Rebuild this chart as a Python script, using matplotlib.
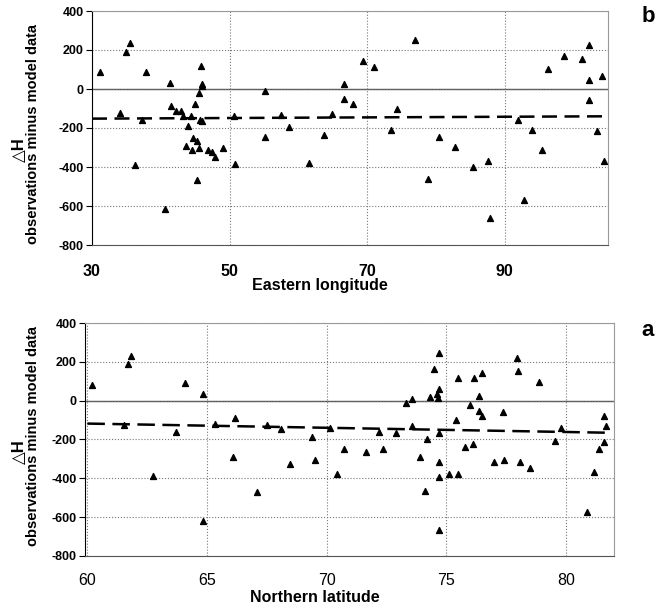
import matplotlib
matplotlib.use('Agg')
import matplotlib.pyplot as plt

# Panel b: eastern longitude vs dH
lon_b = [31.2, 34.1, 34.9, 35.5, 36.3, 37.3, 37.8, 40.65, 41.4, 41.5, 42.2, 42.9,
         43.25, 43.7, 43.9, 44.45, 44.6, 44.75, 45.0, 45.3, 45.3, 45.5, 45.6, 45.7,
         45.9, 46.05, 46.05, 46.05, 46.9, 47.5, 47.9, 49.0, 50.7, 50.8, 55.2, 55.1,
         57.5, 58.7, 61.5, 63.7, 64.9, 66.6, 66.6, 67.9, 69.4, 71.0, 74.3, 73.4,
         76.9, 78.9, 80.5, 82.7, 85.4, 87.5, 87.8, 91.9, 92.8, 94.0, 95.4, 96.3,
         98.6, 101.2, 102.3, 102.2, 102.25, 104.1, 103.4, 104.4]
dh_b = [87, -123, 188, 235, -389, -160, 89, -617, 32, -89, -111, -111,
        -140, -290, -188, -140, -315, -252, -77, -266, -465, -303, -20, -157,
        116, -164, 27, 14, -315, -324, -348, -303, -140, -384, -9, -246,
        -131, -193, -379, -235, -130, 28, -50, -77, 144, 114, -102, -212,
        249, -461, -247, -297, -398, -368, -661, -161, -571, -210, -315, 102,
        171, 156, 224, 44, -54, 68, -217, -371]
trend_lon_b = [30, 104.5]
trend_dh_b = [-152, -140]

# Panel a: northern latitude vs dH
lat_a = [60.18, 61.52, 61.69, 61.82, 62.75, 63.72, 64.06, 64.82, 64.83, 65.34,
         66.07, 66.15, 67.07, 67.5, 68.1, 68.48, 69.39, 69.52, 70.15, 70.42,
         70.72, 71.63, 72.2, 72.34, 72.9, 73.3, 73.57, 73.58, 73.9, 74.1,
         74.19, 74.3, 74.46, 74.61, 74.66, 74.67, 74.68, 74.68, 74.68, 74.68,
         74.68, 75.11, 75.41, 75.48, 75.5, 75.79, 75.99, 76.09, 76.16, 76.36,
         76.36, 76.49, 76.5, 76.97, 77.38, 77.4, 77.96, 77.97, 78.07, 78.5,
         78.87, 79.55, 79.77, 80.88, 81.17, 81.39, 81.58, 81.6, 81.68]
dh_a = [83, -125, 190, 232, -388, -159, 92, 33, -618, -118,
        -289, -90, -468, -125, -144, -327, -189, -305, -142, -379,
        -251, -266, -162, -248, -165, -14, 9, -133, -289, -463,
        -196, 20, 162, 34, 12, 60, 243, -165, -318, -395,
        -664, -380, -102, 116, -376, -238, -22, -223, 116, 26,
        -54, 140, -80, -317, -58, -305, 220, 153, -315, -346,
        97, -209, -143, -575, -368, -247, -77, -211, -131]
trend_lat_a = [60, 81.7]
trend_dh_a = [-118, -165]

yticks = [400, 200, 0, -200, -400, -600, -800]
fam = ['Liberation Sans', 'DejaVu Sans']

fig = plt.figure(figsize=(6.64, 6.06), dpi=100)
ax_b = fig.add_axes([92 / 664, 1 - 245 / 606, 516 / 664, 234 / 606])
ax_a = fig.add_axes([85 / 664, 1 - 556 / 606, 529 / 664, 233 / 606])


def style(ax, bold_x, xpad):
    ax.set_ylim(-800, 400)
    ax.set_yticks(yticks)
    ax.set_yticklabels([str(v) for v in yticks], family=fam, fontweight='bold', fontsize=9)
    ax.grid(True, linestyle=':', color='#777777', linewidth=0.8)
    ax.axhline(0, color='#555555', linewidth=1.0, zorder=1)
    for s in ['top', 'right']:
        ax.spines[s].set_color('#999999')
        ax.spines[s].set_linewidth(0.8)
    ax.spines['left'].set_color('black')
    ax.spines['bottom'].set_color('#555555')
    ax.tick_params(axis='y', direction='out', length=4, width=0.8, pad=2)
    ax.tick_params(axis='x', length=0, pad=xpad)
    for lbl in ax.get_xticklabels():
        lbl.set_family(fam)
        lbl.set_fontsize(11.5)
        if bold_x:
            lbl.set_fontweight('bold')


# top panel
ax_b.scatter(lon_b, dh_b, marker='^', s=18, color='black', zorder=3)
ax_b.plot(trend_lon_b, trend_dh_b, color='black', linestyle=(0, (6, 3)), linewidth=1.8, zorder=2)
ax_b.set_xlim(30, 105)
ax_b.set_xticks([30, 50, 70, 90])
style(ax_b, True, 14)

# bottom panel
ax_a.scatter(lat_a, dh_a, marker='^', s=18, color='black', zorder=3)
ax_a.plot(trend_lat_a, trend_dh_a, color='black', linestyle=(0, (7, 3)), linewidth=1.8, zorder=2)
ax_a.set_xlim(59.9, 82)
ax_a.set_xticks([60, 65, 70, 75, 80])
style(ax_a, False, 12)

# x labels
fig.text(320 / 664, 1 - 290 / 606, 'Eastern longitude', ha='center', va='baseline',
         family=fam, fontweight='bold', fontsize=11.5)
fig.text(315 / 664, 1 - 602 / 606, 'Northern latitude', ha='center', va='baseline',
         family=fam, fontweight='bold', fontsize=11.5)

# y labels and panel letters
for yc_h, yc_o in [(150, 134), (452, 436)]:
    fig.text(19 / 664, 1 - yc_h / 606, '\u25b3H', rotation=90, ha='center', va='center',
             family=fam, fontweight='bold', fontsize=12)
    fig.text(33 / 664, 1 - yc_o / 606, 'observations minus model data', rotation=90,
             ha='center', va='center', family=fam, fontweight='bold', fontsize=10.5)

fig.text(648 / 664, 1 - 17 / 606, 'b', ha='center', va='center', family=fam,
         fontweight='bold', fontsize=16)
fig.text(648 / 664, 1 - 330 / 606, 'a', ha='center', va='center', family=fam,
         fontweight='bold', fontsize=16)

fig.savefig('out.png', dpi=100)
